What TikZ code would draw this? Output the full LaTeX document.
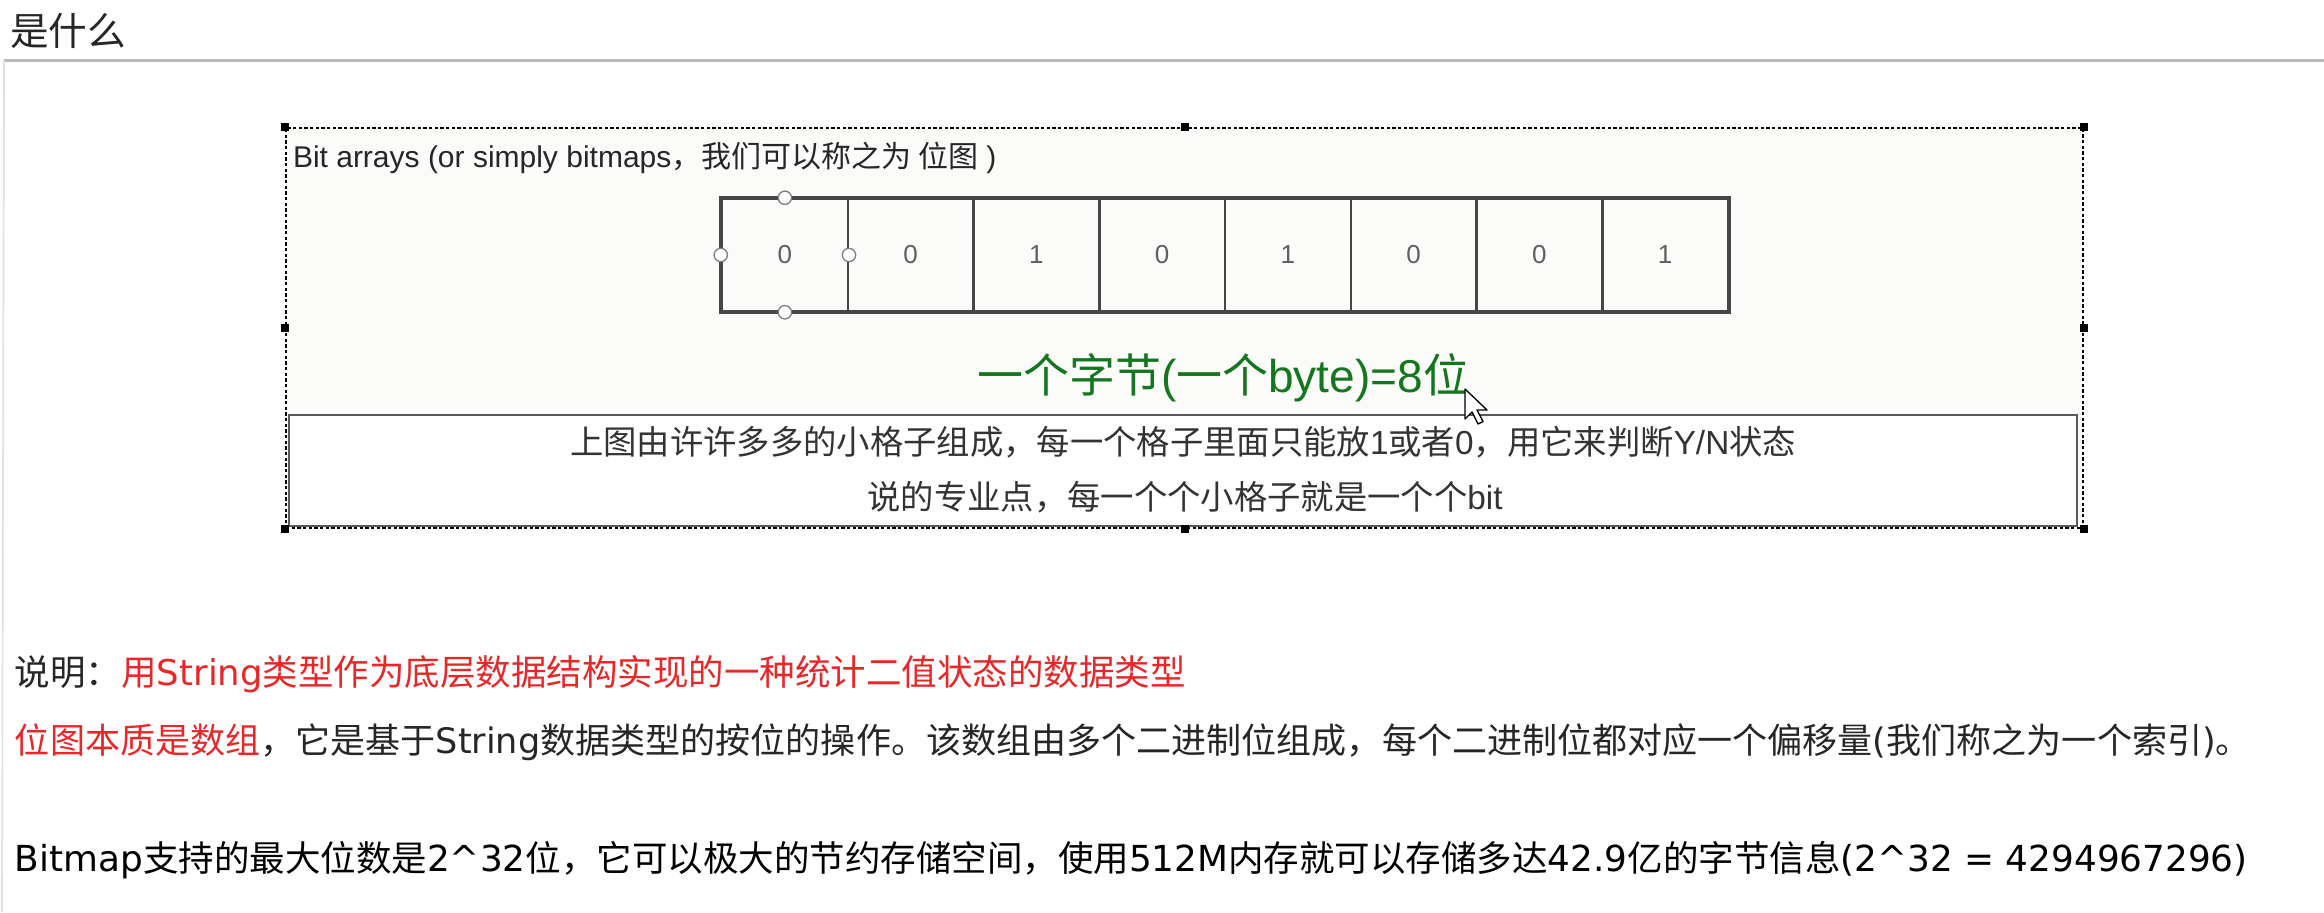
\documentclass[tikz,border=0pt]{standalone}
\usepackage{fontspec}
\setmainfont{Noto Sans CJK SC}
\newfontfamily\dv{DejaVu Sans}
\newfontfamily\ar{Liberation Sans}
\definecolor{txtred}{RGB}{232,40,40}
\definecolor{txtgreen}{RGB}{20,118,30}
\definecolor{cellgray}{RGB}{70,70,70}
\definecolor{digitgray}{RGB}{95,95,95}
\definecolor{rulegray}{RGB}{185,185,185}
\definecolor{boxbg}{RGB}{251,251,250}
\tikzset{
  px/.style={x=0.3pt,y=-0.3pt},
  plain/.style={inner sep=0pt,outer sep=0pt},
  cellbox/.style={draw=cellgray,line width=0.75pt,minimum width=37.725pt,minimum height=33.6pt,inner sep=0pt,font=\ar\fontsize{7.8}{9}\selectfont,text=digitgray},
  handle/.style={fill=black,draw=none,minimum size=2.4pt,inner sep=0pt},
  selcirc/.style={circle,draw=gray,fill=white,line width=0.4pt,minimum size=4pt,inner sep=0pt},
  selbox/.style={draw=black,line width=0.5pt,dash pattern=on 1pt off 0.7pt,fill=boxbg,minimum width=539.1pt,minimum height=120pt,inner sep=0pt},
  notebox/.style={draw=cellgray!90,line width=0.6pt,fill=white,minimum width=536.4pt,minimum height=33.3pt,inner sep=0pt},
  bodytext/.style={plain,anchor=west,font=\fontsize{10.65}{13}\selectfont},
}
\begin{document}
\begin{tikzpicture}[px]
\useasboundingbox (0,0) rectangle (2324,912);
\fill[white] (0,0) rectangle (2324,912);
% header
\node[plain,anchor=west,font=\fontsize{11.6}{13}\selectfont,text=black!85] (title) at (10,31) {是什么};
\coordinate (rl) at (4,61);
\coordinate (rr) at (2324,61);
\draw[rulegray,line width=0.9pt] (rl) -- (rr);
\coordinate (bl) at (2,912);
\draw[black!12,line width=0.5pt] (rl) -- (bl);
% selection box
\node[selbox] (outer) at (1184.5,328) {};
\node[plain,anchor=west,font=\fontsize{9}{11}\selectfont,text=black!85] (cap) at (293,158) {{\ar Bit arrays (or simply bitmaps}，我们可以称之为 位图{\ar\ )}};
% cells
\foreach \i/\v in {1/0,2/0,3/1,4/0,5/1,6/0,7/0,8/1}{
  \node[cellbox] (c\i) at ({722+125.75*(\i-0.5)},255) {\v};
}
\draw[cellgray,line width=1.1pt] (c1.north west) rectangle (c8.south east);
% selection circles on first cell
\node[selcirc] (k1) at (c1.north) {};
\node[selcirc] (k2) at (c1.south) {};
\node[selcirc] (k3) at (c1.west) {};
\node[selcirc] (k4) at (c1.east) {};
% green caption
\node[plain,font=\fontsize{13.8}{16}\selectfont,text=txtgreen] (byte) at (1223,378) {一个字节{\ar (}一个{\ar byte)=8}位};
% note box
\node[notebox] (note) at (1183,470.5) {};
\node[plain,font=\fontsize{10}{12}\selectfont,text=black!80] (n1) at (1183,442) {上图由许许多多的小格子组成，每一个格子里面只能放{\ar 1}或者{\ar 0}，用它来判断{\ar Y/N}状态};
\node[plain,font=\fontsize{10}{12}\selectfont,text=black!80] (n2) at (1185,497) {说的专业点，每一个个小格子就是一个个{\ar bit}};
% handles
\foreach \a [count=\j] in {north west,north,north east,west,east,south west,south,south east}{
  \node[handle] (h\j) at (outer.\a) {};
}
% cursor
\coordinate (cur) at (1465,389);
\draw[black,fill=white,line width=0.4pt,line join=round] (cur) -- ++(0,30) -- ++(7,-7) -- ++(6,12) -- ++(5,-2.5) -- ++(-6,-11.5) -- ++(10,0) -- cycle;
% bottom text
\node[bodytext,text=black!85] (l1) at (15,674) {说明：\textcolor{txtred}{用{\dv String}类型作为底层数据结构实现的一种统计二值状态的数据类型}};
\node[bodytext,text=black!85,font=\fontsize{10.52}{13}\selectfont] (l2) at (15,742) {\textcolor{txtred}{位图本质是数组}，它是基于{\dv String}数据类型的按位的操作。该数组由多个二进制位组成，每个二进制位都对应一个偏移量{\dv (}我们称之为一个索引{\dv )}。};
\node[bodytext,text=black] (l3) at (15,860) {{\dv\fontsize{10.75}{13}\selectfont Bitmap}支持的最大位数是{\dv\fontsize{10.75}{13}\selectfont 2\^{}32}位，它可以极大的节约存储空间，使用{\dv\fontsize{10.75}{13}\selectfont 512M}内存就可以存储多达{\dv\fontsize{10.75}{13}\selectfont 42.9}亿的字节信息{\dv\fontsize{10.75}{13}\selectfont (2\^{}32 = 4294967296)}};
\end{tikzpicture}
\end{document}
